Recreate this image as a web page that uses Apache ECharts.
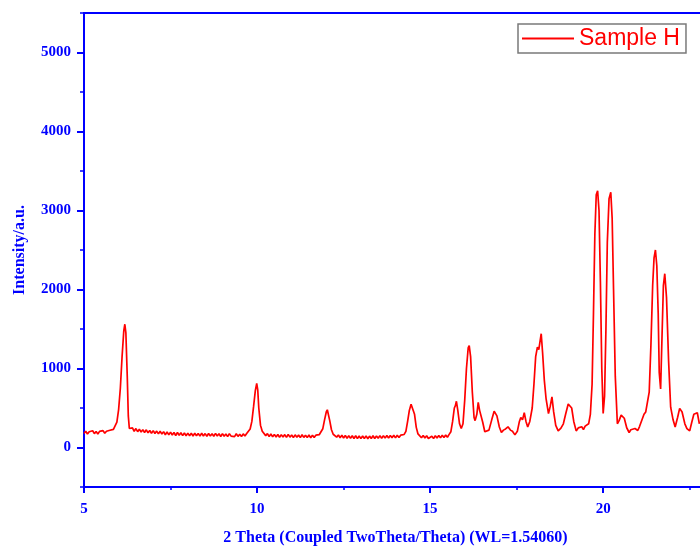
<!DOCTYPE html>
<html>
<head>
<meta charset="utf-8">
<script src="https://cdn.jsdelivr.net/npm/echarts@6/dist/echarts.min.js"></script>
<style>html,body{margin:0;padding:0;background:#fff;}#chart{width:700px;height:546px;}</style>
</head>
<body>
<div id="chart"></div>
<script>
// 2-theta positions (degrees)
const twoTheta = [
5.00,5.05,5.10,5.15,5.20,5.25,5.30,5.35,5.40,5.45,5.50,5.55,5.60,5.65,5.70,5.75,5.80,5.85,
5.90,5.95,6.00,6.05,6.10,6.15,6.18,6.21,6.25,6.28,6.31,6.35,
6.40,6.45,6.50,6.55,6.60,6.65,6.70,6.75,6.80,6.85,6.90,6.95,7.00,7.05,7.10,7.15,7.20,7.25,7.30,7.35,
7.40,7.45,7.50,7.55,7.60,7.65,7.70,7.75,7.80,7.85,7.90,7.95,8.00,8.05,8.10,8.15,8.20,8.25,8.30,8.35,
8.40,8.45,8.50,8.55,8.60,8.65,8.70,8.75,8.80,8.85,8.90,8.95,9.00,9.05,9.10,9.15,9.20,9.25,9.30,9.35,
9.40,9.45,9.50,9.55,9.60,9.65,9.70,
9.75,9.80,9.85,9.90,9.95,9.99,10.02,10.05,10.10,10.15,
10.20,10.25,10.30,10.35,10.40,10.45,10.50,10.55,10.60,10.65,10.70,10.75,10.80,10.85,10.90,10.95,
11.00,11.05,11.10,11.15,11.20,11.25,11.30,11.35,11.40,11.45,11.50,11.55,11.60,11.65,11.70,11.75,11.80,
11.85,11.90,11.95,12.00,12.03,12.06,12.10,12.15,12.20,
12.25,12.30,12.35,12.40,12.45,12.50,12.55,12.60,12.65,12.70,12.75,12.80,12.85,12.90,12.95,13.00,
13.05,13.10,13.15,13.20,13.25,13.30,13.35,13.40,13.45,13.50,13.55,13.60,13.65,13.70,13.75,13.80,
13.85,13.90,13.95,14.00,14.05,14.10,14.15,14.20,
14.25,14.30,14.35,14.40,14.45,14.50,14.55,14.60,14.65,14.70,
14.75,14.80,14.85,14.90,14.95,15.00,15.05,15.10,15.15,15.20,15.25,15.30,15.35,15.40,15.45,15.50,15.55,
15.60,15.65,15.70,15.73,15.76,15.80,15.85,15.90,15.95,16.00,16.05,16.10,16.13,16.17,16.22,16.27,
16.30,16.35,16.39,16.43,16.47,16.52,16.58,16.62,16.70,16.78,16.85,16.88,16.93,17.00,17.06,17.12,
17.18,17.25,17.32,17.38,17.45,17.52,17.58,17.62,17.67,17.72,17.77,17.82,17.88,17.95,18.00,18.05,
18.10,18.14,18.21,18.25,18.30,18.35,18.42,18.47,18.52,18.57,18.63,18.70,18.78,18.85,18.92,18.99,
19.04,19.09,19.15,19.22,19.28,19.33,19.38,19.43,19.48,19.53,19.58,19.63,19.68,19.72,19.76,19.80,
19.84,19.88,19.92,19.96,20.00,20.04,20.08,20.12,20.17,20.22,20.26,20.30,20.35,20.41,20.46,20.52,
20.56,20.61,20.68,20.75,20.80,20.85,20.92,21.00,21.05,21.10,21.18,21.23,21.28,21.33,21.38,21.43,21.47,
21.51,21.55,21.59,21.62,21.66,21.70,21.74,21.78,21.83,21.89,21.95,22.02,22.08,22.15,22.21,22.28,
22.36,22.42,22.50,22.56,22.62,22.66,22.72,22.78
];
// Intensity (a.u.)
const intensity = [
178,205,172,200,186,212,176,202,170,204,184,214,180,206,196,218,208,230,
250,320,480,750,1150,1480,1560,1450,900,400,240,228,
248,205,240,200,232,195,226,190,224,186,216,180,214,178,208,172,206,170,200,162,
198,160,195,158,190,152,190,155,186,150,184,148,182,150,180,146,180,148,178,144,
181,146,176,143,178,146,174,142,179,145,173,140,176,143,171,138,175,144,169,138,
174,141,168,140,172,146,178,
192,235,330,520,720,810,730,500,280,205,
182,150,176,138,170,135,166,132,164,129,161,134,163,128,166,131,
159,127,160,130,157,125,161,128,156,127,158,124,155,128,156,131,164,
182,238,350,450,478,455,340,225,168,
160,131,158,124,155,121,153,118,150,116,148,115,149,113,146,112,
145,114,147,111,144,115,148,113,146,117,150,116,149,119,152,120,
153,123,155,122,154,126,156,132,
165,205,330,470,548,530,420,255,172,150,
124,153,120,148,114,100,143,115,148,119,151,122,154,126,157,130,166,
200,330,500,530,585,470,300,240,300,600,1000,1260,1290,1150,700,380,
340,420,570,470,480,320,200,175,220,350,460,470,400,260,190,220,
235,262,220,205,160,205,330,380,350,440,330,260,330,500,800,1150,
1270,1240,1440,1200,850,620,430,520,640,450,280,210,245,300,430,550,
565,500,330,210,248,230,262,228,270,245,300,420,800,1700,2700,3200,
3250,3000,2100,1000,430,650,1500,2600,3150,3230,2900,2000,900,300,340,410,
425,370,250,190,225,205,240,215,265,245,420,450,470,700,1300,2050,2400,2500,
2300,1700,950,740,1400,2050,2200,1900,1100,510,350,260,380,495,450,300,
240,210,320,420,440,440,300,175
];
const seriesName = 'Sample H';
const xTicks = [5, 10, 15, 20];
const yTicks = [0, 1000, 2000, 3000, 4000, 5000];

const BLUE = '#0000ff';
const serif = "'Liberation Serif','Times New Roman',serif";
const points = twoTheta.map((t, i) => [t, intensity[i]]);

const chart = echarts.init(document.getElementById('chart'), null, {renderer: 'canvas'});
chart.setOption({
  animation: false,
  backgroundColor: '#ffffff',
  grid: {left: 84, top: 13, width: 623, bottom: 59, outerBoundsMode: 'none', containLabel: false,
    show: true, borderColor: BLUE, borderWidth: 2, backgroundColor: 'transparent'},
  legend: {
    data: [{name: seriesName, icon: 'rect'}],
    left: 518, top: 24,
    padding: [3, 6, 3, 4],
    borderColor: '#7a7a7a', borderWidth: 1.5,
    itemWidth: 52, itemHeight: 2,
    itemStyle: {color: '#ff0000'},
    textStyle: {color: '#ff0000', fontSize: 23, fontFamily: "'Liberation Sans',Arial,sans-serif"}
  },
  xAxis: {
    type: 'value', min: 5, max: 23, interval: 5,
    name: '2 Theta (Coupled TwoTheta/Theta) (WL=1.54060)',
    nameLocation: 'middle', nameGap: 43,
    nameTextStyle: {color: BLUE, fontWeight: 'bold', fontSize: 16, fontFamily: serif},
    axisLine: {show: true, onZero: false, lineStyle: {color: BLUE, width: 2}},
    axisTick: {show: true, inside: false, length: 6, lineStyle: {color: BLUE, width: 2}},
    minorTick: {show: true, splitNumber: 2, length: 3, lineStyle: {color: BLUE, width: 1.5}},
    axisLabel: {color: BLUE, fontWeight: 'bold', fontSize: 15, fontFamily: serif, margin: 15,
      customValues: xTicks, formatter: v => String(v)},
    splitLine: {show: false}
  },
  yAxis: [{
    type: 'value', min: -500, max: 5500, interval: 500,
    name: 'Intensity/a.u.',
    nameLocation: 'middle', nameGap: 56,
    nameTextStyle: {color: BLUE, fontWeight: 'bold', fontSize: 16, fontFamily: serif},
    axisLine: {show: true, onZero: false, lineStyle: {color: BLUE, width: 2}},
    axisTick: {show: true, inside: false, length: 7, lineStyle: {color: BLUE, width: 2}, customValues: yTicks},
    axisLabel: {color: BLUE, fontWeight: 'bold', fontSize: 15, fontFamily: serif, margin: 13,
      customValues: yTicks, formatter: v => String(v)},
    splitLine: {show: false}
  }, {
    type: 'value', min: -500, max: 5500, interval: 500, position: 'left',
    axisLine: {show: false},
    axisTick: {show: true, inside: false, length: 4, lineStyle: {color: BLUE, width: 1.5}},
    axisLabel: {show: false},
    splitLine: {show: false}
  }],
  series: [{
    name: seriesName,
    type: 'line',
    data: points,
    symbol: 'none',
    lineStyle: {color: '#ff0000', width: 1.7},
    itemStyle: {color: '#ff0000'},
    clip: true
  }]
});
</script>
</body>
</html>
